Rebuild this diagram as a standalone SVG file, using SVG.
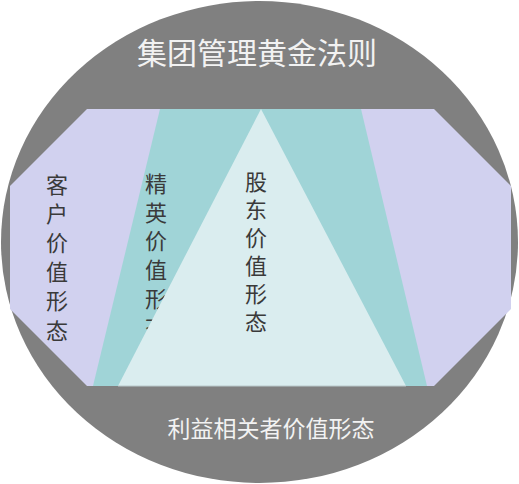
<svg xmlns="http://www.w3.org/2000/svg" width="519" height="484" viewBox="0 0 519 484">
<style>
.v{font-family:"Liberation Sans","Noto Sans CJK SC",sans-serif;font-size:22px;fill:#3a3a3a;text-anchor:middle}
.w{font-family:"Liberation Sans","Noto Sans CJK SC",sans-serif;fill:#f2f2f2;text-anchor:middle}
</style>
<rect width="519" height="484" fill="#ffffff"/>
<g id="frame">
<ellipse cx="259.5" cy="242" rx="258.5" ry="241" fill="#808080"/>
<text class="w" x="257" y="64" font-size="30">集团管理黄金法则</text>
<text class="w" x="271" y="437" font-size="23">利益相关者价值形态</text>
</g>
<g id="customer">
<polygon points="87,109 434,109 511,186 511,309 434,386 87,386 10,309 10,186" fill="#d1d1ef"/>
<text class="v" x="57" y="193">客</text>
<text class="v" x="57" y="222">户</text>
<text class="v" x="57" y="251">价</text>
<text class="v" x="57" y="280">值</text>
<text class="v" x="57" y="309">形</text>
<text class="v" x="57" y="339">态</text>
</g>
<g id="elite">
<polygon points="160,109 361,109 427,386 93,386" fill="#a0d4d7"/>
<text class="v" x="156" y="192">精</text>
<text class="v" x="156" y="221">英</text>
<text class="v" x="156" y="249">价</text>
<text class="v" x="156" y="278">值</text>
<text class="v" x="156" y="307">形</text>
<text class="v" x="156" y="335">态</text>
</g>
<g id="shareholder">
<polygon points="261,109 406,386 118,386" fill="#daedef"/>
<line x1="118" y1="386" x2="406" y2="386" stroke="#b9c9cb" stroke-width="1.2"/>
<text class="v" x="256" y="190">股</text>
<text class="v" x="256" y="218">东</text>
<text class="v" x="256" y="246">价</text>
<text class="v" x="256" y="274">值</text>
<text class="v" x="256" y="302">形</text>
<text class="v" x="256" y="330">态</text>
</g>
<g id="connectors"></g>
</svg>
